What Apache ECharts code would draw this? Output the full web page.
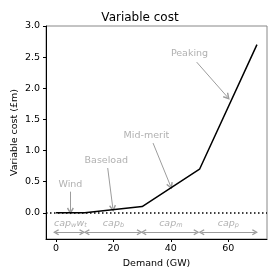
<!DOCTYPE html>
<html><head><meta charset="utf-8">
<script src="https://cdn.jsdelivr.net/npm/echarts@6/dist/echarts.min.js"></script>
<style>html,body{margin:0;padding:0;background:#fff}#c{width:280px;height:280px}</style>
</head><body><div id="c"></div>
<script>
// Data
const demand = [0, 10, 30, 50, 70];
const cost = [0, 0, 0.1, 0.7, 2.7];
const xTicks = [0, 20, 40, 60];
const yTicks = [0, 0.5, 1.0, 1.5, 2.0, 2.5, 3.0];
// Annotations: label text, label position, arrow start, arrow tip
const annoNames = ['Wind', 'Baseload', 'Mid-merit', 'Peaking'];
const annoText = [[5, 0.45], [17.5, 0.84], [31.5, 1.24], [46.5, 2.56]];
const annoFrom = [[5, 0.34], [18, 0.72], [33.8, 1.12], [49, 2.42]];
const annoTo = [[5, 0.03], [19.8, 0.07], [39.9, 0.43], [59.7, 1.86]];
// Capacity band labels and ranges
const capLabels = ['{i|cap}{s|w}{i|w}{s|t}', '{i|cap}{s|b}', '{i|cap}{s|m}', '{i|cap}{s|p}'];
const capCenters = [5, 20, 40, 60];
const capLabelY = -0.17;
const capArrowY = -0.31;
const capStarts = [0, 10.7, 30.5, 50.7];
const capEnds = [9.1, 29.1, 48.9, 69.3];

const font = 'DejaVu Sans';
const grey = '#9c9c9c';
const openArrow = 'path://M0 0 L6 8.5 L4 9.8 L0 4 L-4 9.8 L-6 8.5 Z';
const chart = echarts.init(document.getElementById('c'), null, {renderer: 'canvas'});

const annoLines = annoNames.map((n, i) => ({coords: [annoFrom[i], annoTo[i]]}));
const capLines = capStarts.map((s, i) => ({coords: [[s, capArrowY], [capEnds[i], capArrowY]]}));

chart.setOption({
  animation: false,
  title: {text: 'Variable cost', left: 'center', top: 7,
    textStyle: {fontFamily: font, fontSize: 12, fontWeight: 'normal', color: '#000'}},
  grid: {left: 46, right: 13, top: 26, bottom: 41, show: true, borderColor: '#888', borderWidth: 1,
    containLabel: false, outerBoundsMode: 'none'},
  xAxis: {type: 'value', min: -3.5, max: 73.5,
    name: 'Demand (GW)', nameLocation: 'middle', nameGap: 20, nameMoveOverlap: false,
    nameTextStyle: {fontFamily: font, fontSize: 9.5, color: '#000'},
    axisLine: {show: true, onZero: false, lineStyle: {color: '#000', width: 1}},
    axisTick: {show: true, inside: false, length: 3, customValues: xTicks, lineStyle: {color: '#000'}},
    axisLabel: {customValues: xTicks, margin: 5, fontFamily: font, fontSize: 9.5, color: '#000'},
    splitLine: {show: false}},
  yAxis: {type: 'value', min: -0.42, max: 3.0,
    name: 'Variable cost (£m)', nameLocation: 'middle', nameGap: 26, nameMoveOverlap: false,
    nameTextStyle: {fontFamily: font, fontSize: 9.5, color: '#000'},
    axisLine: {show: true, onZero: false, lineStyle: {color: '#000', width: 1}},
    axisTick: {show: true, inside: false, length: 3, customValues: yTicks, lineStyle: {color: '#000'}},
    axisLabel: {customValues: yTicks, margin: 6, fontFamily: font, fontSize: 9.5, color: '#000',
      formatter: v => v.toFixed(1)},
    splitLine: {show: false}},
  series: [
    {type: 'line', data: demand.map((d, i) => [d, cost[i]]), symbol: 'none',
     lineStyle: {color: '#000', width: 1.5}, z: 5,
     markLine: {silent: true, symbol: 'none', label: {show: false},
       lineStyle: {color: '#000', type: [1.5, 2.5], width: 1.5},
       data: [{yAxis: 0}]}},
    {type: 'lines', coordinateSystem: 'cartesian2d', data: annoLines,
     symbol: ['none', openArrow], symbolSize: [0, 7],
     itemStyle: {color: grey},
     lineStyle: {color: grey, width: 1, opacity: 1}, z: 4},
    {type: 'lines', coordinateSystem: 'cartesian2d', data: capLines,
     symbol: [openArrow, openArrow], symbolSize: 6,
     itemStyle: {color: grey},
     lineStyle: {color: grey, width: 1, opacity: 1}, z: 4},
    {type: 'scatter', symbolSize: 0, data: annoNames.map((n, i) => ({value: annoText[i], name: n})),
     label: {show: true, position: 'inside', formatter: p => p.name,
       fontFamily: font, fontSize: 9.5, color: grey}},
    {type: 'scatter', symbolSize: 0, data: capLabels.map((n, i) => ({value: [capCenters[i], capLabelY], name: n})),
     label: {show: true, position: 'inside', formatter: p => p.name,
       rich: {i: {fontFamily: font, fontStyle: 'italic', fontSize: 9.5, color: grey},
              s: {fontFamily: font, fontStyle: 'italic', fontSize: 6.5, color: grey, verticalAlign: 'bottom', padding: [4, 0, 0, 0]}}}}
  ]
});
</script></body></html>
